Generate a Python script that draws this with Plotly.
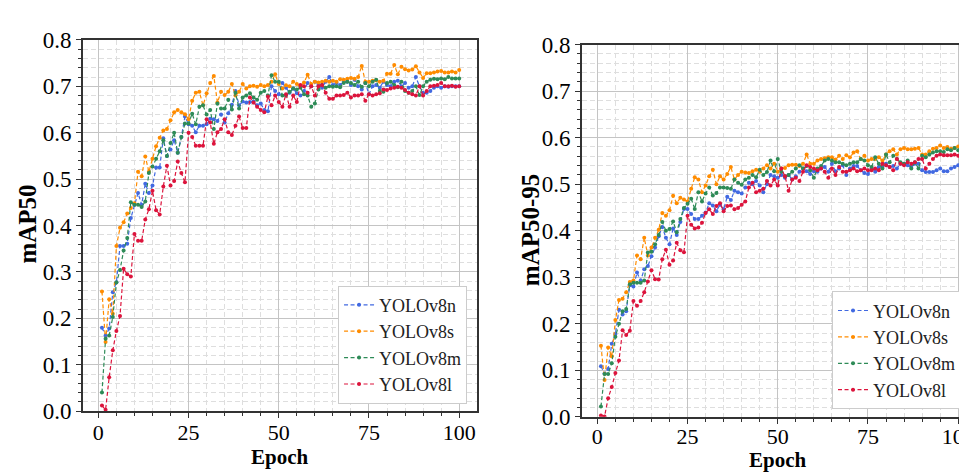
import plotly.graph_objects as go

epochs = list(range(1, 101))
model_names = ["YOLOv8n", "YOLOv8s", "YOLOv8m", "YOLOv8l"]
colors = ["#4169E1", "#FF8C00", "#2E8B57", "#DC143C"]

map50_n = [0.18, 0.163, 0.178, 0.256, 0.278, 0.356, 0.356, 0.361, 0.416, 0.445,
           0.47, 0.445, 0.49, 0.47, 0.486, 0.525, 0.525, 0.588, 0.55, 0.564,
           0.584, 0.557, 0.591, 0.635, 0.618, 0.615, 0.601, 0.615, 0.615, 0.618,
           0.63, 0.629, 0.625, 0.639, 0.622, 0.642, 0.66, 0.69, 0.659, 0.667,
           0.665, 0.666, 0.667, 0.659, 0.663, 0.649, 0.646, 0.70, 0.69, 0.683,
           0.707, 0.697, 0.686, 0.695, 0.685, 0.68, 0.69, 0.707, 0.70, 0.71,
           0.703, 0.697, 0.71, 0.72, 0.703, 0.707, 0.703, 0.71, 0.71, 0.703,
           0.714, 0.70, 0.693, 0.707, 0.683, 0.70, 0.703, 0.697, 0.71, 0.703,
           0.70, 0.71, 0.712, 0.70, 0.707, 0.697, 0.70, 0.72, 0.70, 0.686,
           0.686, 0.69, 0.697, 0.70, 0.697, 0.70, 0.699, 0.70, 0.70, 0.70]
map50_s = [0.258, 0.149, 0.241, 0.21, 0.356, 0.395, 0.407, 0.426, 0.438, 0.448,
           0.516, 0.506, 0.549, 0.516, 0.544, 0.571, 0.589, 0.605, 0.608, 0.627,
           0.644, 0.649, 0.644, 0.64, 0.629, 0.669, 0.686, 0.688, 0.659, 0.685,
           0.707, 0.722, 0.665, 0.688, 0.681, 0.688, 0.705, 0.68, 0.688, 0.705,
           0.695, 0.70, 0.701, 0.699, 0.703, 0.70, 0.703, 0.71, 0.726, 0.705,
           0.695, 0.702, 0.70, 0.71, 0.705, 0.70, 0.708, 0.725, 0.705, 0.71,
           0.708, 0.71, 0.712, 0.71, 0.712, 0.71, 0.715, 0.714, 0.716, 0.718,
           0.716, 0.72, 0.744, 0.71, 0.71, 0.712, 0.713, 0.71, 0.712, 0.727,
           0.727, 0.746, 0.726, 0.742, 0.737, 0.734, 0.736, 0.743, 0.73, 0.718,
           0.728, 0.728, 0.73, 0.732, 0.733, 0.73, 0.73, 0.732, 0.73, 0.735]
map50_m = [0.04, 0.156, 0.163, 0.203, 0.277, 0.304, 0.346, 0.373, 0.45, 0.445,
           0.445, 0.44, 0.452, 0.513, 0.527, 0.544, 0.56, 0.584, 0.55, 0.578,
           0.60, 0.557, 0.591, 0.62, 0.62, 0.641, 0.618, 0.656, 0.659, 0.639,
           0.649, 0.608, 0.663, 0.652, 0.652, 0.671, 0.65, 0.686, 0.652, 0.676,
           0.68, 0.685, 0.676, 0.671, 0.686, 0.69, 0.68, 0.724, 0.71, 0.71,
           0.68, 0.68, 0.688, 0.695, 0.693, 0.697, 0.683, 0.68, 0.656, 0.663,
           0.693, 0.703, 0.697, 0.70, 0.699, 0.70, 0.698, 0.707, 0.71, 0.707,
           0.703, 0.71, 0.699, 0.707, 0.70, 0.71, 0.714, 0.69, 0.688, 0.707,
           0.71, 0.703, 0.698, 0.71, 0.69, 0.686, 0.69, 0.70, 0.681, 0.70,
           0.71, 0.714, 0.716, 0.715, 0.717, 0.715, 0.72, 0.717, 0.717, 0.717]
map50_l = [0.012, 0.003, 0.073, 0.131, 0.173, 0.205, 0.307, 0.295, 0.29, 0.382,
           0.367, 0.367, 0.413, 0.435, 0.475, 0.433, 0.424, 0.484, 0.529, 0.486,
           0.496, 0.538, 0.513, 0.493, 0.60, 0.591, 0.572, 0.572, 0.572, 0.629,
           0.622, 0.576, 0.601, 0.608, 0.629, 0.601, 0.595, 0.615, 0.635, 0.61,
           0.61, 0.676, 0.665, 0.656, 0.649, 0.644, 0.678, 0.659, 0.68, 0.666,
           0.656, 0.683, 0.656, 0.68, 0.666, 0.703, 0.70, 0.686, 0.70, 0.68,
           0.70, 0.703, 0.686, 0.673, 0.673, 0.68, 0.68, 0.681, 0.686, 0.676,
           0.68, 0.68, 0.683, 0.669, 0.683, 0.68, 0.683, 0.685, 0.693, 0.692,
           0.695, 0.697, 0.699, 0.697, 0.692, 0.686, 0.683, 0.68, 0.70, 0.68,
           0.69, 0.70, 0.701, 0.703, 0.707, 0.70, 0.70, 0.701, 0.699, 0.70]

map5095_n = [0.109, 0.093, 0.103, 0.157, 0.178, 0.23, 0.22, 0.227, 0.283, 0.28,
             0.31, 0.293, 0.317, 0.324, 0.345, 0.364, 0.388, 0.408, 0.385, 0.371,
             0.405, 0.391, 0.419, 0.447, 0.447, 0.436, 0.425, 0.425, 0.432, 0.439,
             0.459, 0.454, 0.442, 0.456, 0.446, 0.473, 0.466, 0.486, 0.483, 0.48,
             0.493, 0.503, 0.50, 0.507, 0.497, 0.483, 0.50, 0.52, 0.517, 0.514,
             0.52, 0.514, 0.52, 0.51, 0.517, 0.527, 0.534, 0.528, 0.522, 0.528,
             0.527, 0.534, 0.537, 0.527, 0.544, 0.528, 0.534, 0.541, 0.52, 0.534,
             0.539, 0.539, 0.53, 0.524, 0.522, 0.534, 0.527, 0.537, 0.537, 0.544,
             0.537, 0.539, 0.534, 0.544, 0.544, 0.541, 0.537, 0.544, 0.544, 0.53,
             0.526, 0.526, 0.526, 0.53, 0.534, 0.528, 0.528, 0.534, 0.537, 0.541]
map5095_s = [0.153, 0.079, 0.149, 0.13, 0.208, 0.251, 0.254, 0.268, 0.29, 0.293,
             0.347, 0.339, 0.385, 0.347, 0.364, 0.385, 0.402, 0.438, 0.432, 0.444,
             0.475, 0.459, 0.471, 0.467, 0.463, 0.49, 0.515, 0.51, 0.483, 0.497,
             0.517, 0.531, 0.50, 0.517, 0.51, 0.522, 0.537, 0.51, 0.52, 0.527,
             0.525, 0.524, 0.528, 0.531, 0.527, 0.534, 0.541, 0.534, 0.544, 0.527,
             0.534, 0.535, 0.541, 0.542, 0.542, 0.539, 0.544, 0.564, 0.544, 0.544,
             0.551, 0.554, 0.556, 0.558, 0.558, 0.553, 0.561, 0.554, 0.562, 0.558,
             0.568, 0.571, 0.554, 0.561, 0.551, 0.554, 0.554, 0.558, 0.551, 0.564,
             0.571, 0.575, 0.564, 0.575, 0.578, 0.575, 0.575, 0.576, 0.578, 0.564,
             0.564, 0.571, 0.576, 0.578, 0.583, 0.578, 0.58, 0.576, 0.578, 0.581]
map5095_m = [0.022, 0.092, 0.092, 0.115, 0.172, 0.20, 0.227, 0.232, 0.285, 0.288,
             0.288, 0.288, 0.293, 0.353, 0.355, 0.371, 0.391, 0.419, 0.40, 0.404,
             0.42, 0.397, 0.425, 0.449, 0.458, 0.469, 0.447, 0.483, 0.463, 0.48,
             0.493, 0.476, 0.481, 0.493, 0.493, 0.492, 0.49, 0.51, 0.503, 0.499,
             0.51, 0.514, 0.52, 0.515, 0.531, 0.52, 0.526, 0.551, 0.528, 0.554,
             0.527, 0.517, 0.52, 0.527, 0.534, 0.541, 0.534, 0.539, 0.53, 0.514,
             0.534, 0.539, 0.551, 0.554, 0.551, 0.547, 0.547, 0.544, 0.541, 0.544,
             0.547, 0.547, 0.554, 0.551, 0.541, 0.537, 0.558, 0.544, 0.534, 0.564,
             0.547, 0.561, 0.554, 0.547, 0.544, 0.551, 0.534, 0.547, 0.534, 0.561,
             0.558, 0.564, 0.568, 0.571, 0.571, 0.569, 0.575, 0.573, 0.578, 0.573]
map5095_l = [0.003, 0.001, 0.04, 0.064, 0.094, 0.121, 0.186, 0.176, 0.185, 0.249,
             0.239, 0.249, 0.268, 0.291, 0.315, 0.296, 0.295, 0.339, 0.359, 0.327,
             0.336, 0.374, 0.358, 0.354, 0.432, 0.413, 0.405, 0.407, 0.417, 0.438,
             0.446, 0.436, 0.453, 0.459, 0.442, 0.453, 0.454, 0.446, 0.449, 0.456,
             0.463, 0.493, 0.503, 0.483, 0.486, 0.49, 0.507, 0.497, 0.51, 0.497,
             0.534, 0.517, 0.486, 0.51, 0.514, 0.507, 0.527, 0.541, 0.537, 0.534,
             0.53, 0.534, 0.527, 0.514, 0.534, 0.52, 0.537, 0.527, 0.527, 0.53,
             0.534, 0.528, 0.53, 0.534, 0.53, 0.53, 0.534, 0.53, 0.544, 0.541,
             0.537, 0.53, 0.554, 0.544, 0.541, 0.547, 0.544, 0.547, 0.554, 0.554,
             0.534, 0.544, 0.554, 0.561, 0.564, 0.562, 0.562, 0.562, 0.564, 0.561]

x_ticks = [0, 25, 50, 75, 100]
left_series = [map50_n, map50_s, map50_m, map50_l]
right_series = [map5095_n, map5095_s, map5095_m, map5095_l]

FONT = "Liberation Serif"
W, H = 967, 473

fig = go.Figure()
for name, col, ys in zip(model_names, colors, left_series):
    fig.add_trace(go.Scatter(x=epochs, y=ys, name=name, mode="lines+markers",
                             line=dict(color=col, width=1.2, dash="4px,2.5px"),
                             marker=dict(color=col, size=4),
                             xaxis="x", yaxis="y", legend="legend"))
for name, col, ys in zip(model_names, colors, right_series):
    fig.add_trace(go.Scatter(x=epochs, y=ys, name=name, mode="lines+markers",
                             line=dict(color=col, width=1.2, dash="4px,2.5px"),
                             marker=dict(color=col, size=4),
                             xaxis="x2", yaxis="y2", legend="legend2"))

grid_major = "#c4c4c4"
grid_minor = "#dedede"
axis_common = dict(showline=True, linecolor="#333333", linewidth=1.5,
                   ticks="outside", ticklen=5, tickcolor="#333333",
                   showgrid=True, gridcolor=grid_major, gridwidth=1,
                   zeroline=False, ticklabeloverflow="allow")

def xax(domain, rng, anchor, mirror, standoff):
    d = dict(axis_common)
    d.update(domain=domain, range=rng, anchor=anchor, tickvals=x_ticks, mirror=mirror,
             ticklabelstandoff=standoff,
             tickfont=dict(family=FONT, size=22, color="black"),
             minor=dict(dtick=5, tick0=0, showgrid=True, gridcolor=grid_minor,
                        griddash="5px,3px", gridwidth=1, ticks="outside", ticklen=3,
                        tickcolor="#333333"))
    return d

def yax(domain, anchor, mirror):
    d = dict(axis_common)
    d.update(domain=domain, range=[0, 0.8], anchor=anchor, dtick=0.1, tick0=0,
             tickformat=".1f", mirror=mirror,
             tickfont=dict(family=FONT, size=23, color="black"),
             minor=dict(dtick=0.02, tick0=0, showgrid=True, gridcolor=grid_minor,
                        griddash="5px,3px", gridwidth=1, ticks="outside", ticklen=3,
                        tickcolor="#333333"))
    return d

legend_common = dict(bgcolor="white", bordercolor="#cccccc", borderwidth=1,
                     font=dict(family=FONT, size=18, color="#222222"),
                     xanchor="right", yanchor="bottom", tracegroupgap=0)

title_font = dict(family=FONT, size=21, color="black")
ytitle_font = dict(family=FONT, size=25, color="black")

fig.update_layout(
    width=W, height=H, autosize=False,
    margin=dict(l=0, r=0, t=0, b=0),
    paper_bgcolor="white", plot_bgcolor="white",
    font=dict(family=FONT, color="black"),
    xaxis=xax([75 / W, 470 / W], [-4.3, 104.95], "y", True, -4),
    yaxis=yax([1 - 413 / H, 1 - 21 / H], "x", True),
    xaxis2=xax([575 / W, 1.0], [-4.3, 104.1], "y2", True, -6),
    yaxis2=yax([1 - 419 / H, 1 - 26 / H], "x2", False),
    legend=dict(legend_common, x=460 / W, y=1 - 405 / H),
    legend2=dict(legend_common, x=955 / W, y=1 - 411 / H),
    annotations=[
        dict(text="<b>Epoch</b>", x=272.5 / W, y=1 - 461 / H, xref="paper", yref="paper",
             showarrow=False, font=title_font, xanchor="center", yanchor="middle"),
        dict(text="<b>Epoch</b>", x=772 / W, y=1 - 465 / H, xref="paper", yref="paper",
             showarrow=False, font=title_font, xanchor="center", yanchor="middle"),
        dict(text="<b>mAP50</b>", x=20 / W, y=1 - 215 / H, xref="paper", yref="paper",
             showarrow=False, textangle=-90, font=ytitle_font,
             xanchor="center", yanchor="middle"),
        dict(text="<b>mAP50-95</b>", x=523 / W, y=1 - 222 / H, xref="paper", yref="paper",
             showarrow=False, textangle=-90, font=ytitle_font,
             xanchor="center", yanchor="middle"),
    ],
)

fig.write_html("out.html")
